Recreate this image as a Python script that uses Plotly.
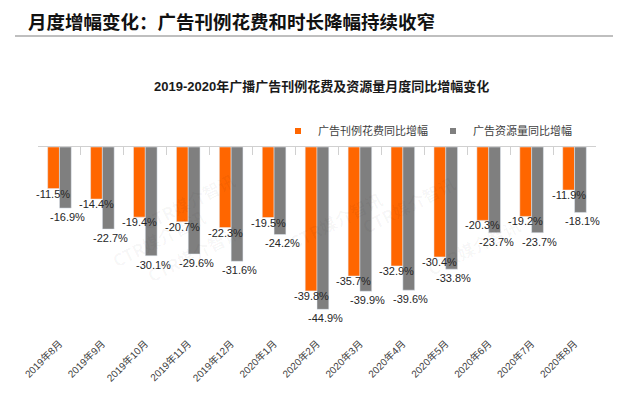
import plotly.graph_objects as go

# ---- data ----
months = ["2019年8月", "2019年9月", "2019年10月", "2019年11月", "2019年12月",
          "2020年1月", "2020年2月", "2020年3月", "2020年4月", "2020年5月",
          "2020年6月", "2020年7月", "2020年8月"]
spend_yoy = [-11.5, -14.4, -19.4, -20.7, -22.3, -19.5, -39.8, -35.7, -32.9, -30.4, -20.3, -19.2, -11.9]
volume_yoy = [-16.9, -22.7, -30.1, -29.6, -31.6, -24.2, -44.9, -39.9, -39.6, -33.8, -23.7, -23.7, -18.1]
series_names = ["广告刊例花费同比增幅", "广告资源量同比增幅"]
main_title = "月度增幅变化：广告刊例花费和时长降幅持续收窄"
chart_title = "2019-2020年广播广告刊例花费及资源量月度同比增幅变化"
watermark = "CTR媒介智讯"

ORANGE = "#FF6600"
GREY = "#7F7F7F"
FONT = "Arial, Liberation Sans, Noto Sans CJK SC, sans-serif"
CJK = "Noto Sans CJK SC, Liberation Sans, sans-serif"

# plot area in pixels (for converting layout positions to paper coords)
L, R, T, B = 38, 596, 147, 335


def px_x(px):
    return (px - L) / (R - L)


def px_y(py):
    return (B - py) / (B - T)


fig = go.Figure()
fig.add_trace(go.Bar(x=months, y=spend_yoy, name=series_names[0], marker_color=ORANGE,
                     showlegend=False, hoverinfo="skip"))
fig.add_trace(go.Bar(x=months, y=volume_yoy, name=series_names[1], marker_color=GREY,
                     showlegend=False, hoverinfo="skip"))
# invisible trace on top axis so the zero-line ticks are drawn at category boundaries
fig.add_trace(go.Scatter(x=months, y=spend_yoy, xaxis="x2", yaxis="y", mode="none",
                         showlegend=False, hoverinfo="skip"))
# legend entries with small square markers
for name, col in zip(series_names, [ORANGE, GREY]):
    fig.add_trace(go.Scatter(x=[None], y=[None], mode="markers", name=name,
                             marker=dict(symbol="square", size=6, color=col)))

annotations = []
for m, v in zip(months, spend_yoy):
    annotations.append(dict(x=m, y=v, xref="x", yref="y", text=f"{v:.1f}%", showarrow=False,
                            xshift=-6, yshift=-5, yanchor="middle",
                            font=dict(size=11, color="#262626", family=FONT)))
for m, v in zip(months, volume_yoy):
    annotations.append(dict(x=m, y=v, xref="x", yref="y", text=f"{v:.1f}%", showarrow=False,
                            xshift=8, yshift=-9, yanchor="middle",
                            font=dict(size=11, color="#262626", family=FONT)))

# chart title
annotations.append(dict(x=px_x(321), y=px_y(86), xref="paper", yref="paper", text=f"<b>{chart_title}</b>",
                        showarrow=False, xanchor="center", yanchor="middle",
                        font=dict(size=13, color="#1a1a1a", family=FONT)))
# main slide title
annotations.append(dict(x=px_x(26), y=px_y(21), xref="paper", yref="paper",
                        text=f"<b>{main_title}</b>", showarrow=False, xanchor="left", yanchor="middle",
                        font=dict(size=18.5, color="#111111", family=CJK)))

# faint watermarks
for wx, wy in [(135, 165), (105, 238), (140, 290), (462, 168), (335, 220), (527, 283)]:
    annotations.append(dict(x=px_x(wx), y=px_y(wy), xref="paper", yref="paper",
                            text=f"<b>{watermark}</b>", showarrow=False, textangle=-27,
                            font=dict(size=17, color="rgba(0,0,0,0.035)", family=CJK)))

fig.update_layout(
    width=622, height=399,
    margin=dict(l=L, r=622 - R, t=T, b=399 - B, autoexpand=False),
    paper_bgcolor="white", plot_bgcolor="white",
    barmode="group", bargap=0.45, bargroupgap=0,
    font=dict(family=FONT, color="#404040"),
    annotations=annotations,
    shapes=[dict(type="line", xref="paper", yref="paper",
                 x0=px_x(15), x1=px_x(613), y0=px_y(36), y1=px_y(36),
                 line=dict(color="#AAAAAA", width=1.5))],
    legend=dict(orientation="h", x=px_x(278), xanchor="left",
                y=px_y(131), yanchor="middle",
                font=dict(size=11, color="#404040", family=CJK),
                bgcolor="rgba(0,0,0,0)", itemclick=False),
    xaxis=dict(type="category", categoryorder="array", categoryarray=months,
               range=[-0.5, 12.5], tickangle=-45, showgrid=False, zeroline=False, automargin=False,
               showline=False, ticks="", tickfont=dict(size=10, color="#404040", family=FONT)),
    xaxis2=dict(overlaying="x", side="top", anchor="y", type="category",
                categoryorder="array", categoryarray=months, range=[-0.5, 12.5],
                showline=True, linecolor="#D0D0D0", linewidth=1, automargin=False,
                ticks="inside", tickson="boundaries", ticklen=8, tickcolor="#D0D0D0",
                showticklabels=False, showgrid=False, zeroline=False),
    yaxis=dict(range=[-52, 0], visible=False),
)

fig.write_html("out.html", config={"displayModeBar": False},
               post_script="document.body.style.margin='0px';")
